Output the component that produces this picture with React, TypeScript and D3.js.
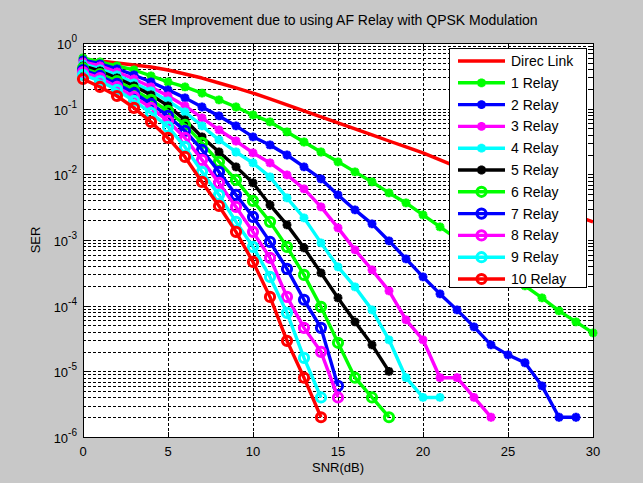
import React, { useEffect, useRef } from "react";
import * as d3 from "d3";

// SNR axis (dB)
const snrDb = [0, 1, 2, 3, 4, 5, 6, 7, 8, 9, 10, 11, 12, 13, 14, 15, 16, 17, 18, 19, 20, 21, 22, 23, 24, 25, 26, 27, 28, 29, 30];

// SER values
const direcLink = [0.551, 0.532, 0.497, 0.462, 0.431, 0.388, 0.337, 0.293, 0.246, 0.207, 0.173, 0.141, 0.114, 0.0923, 0.0748, 0.0606, 0.0491, 0.0398, 0.0322, 0.0261, 0.0212, 0.0166, 0.013, 0.0101, 0.00794, 0.00621, 0.00486, 0.0038, 0.00297, 0.00233, 0.00189];
const relay1 = [0.591, 0.514, 0.447, 0.388, 0.315, 0.255, 0.214, 0.173, 0.136, 0.106, 0.0802, 0.0628, 0.0442, 0.0311, 0.0219, 0.0155, 0.0109, 0.00766, 0.00521, 0.00367, 0.00241, 0.00158, 0.00104, 0.000683, 0.000464, 0.000305, 0.0002, 0.000131, 0.0000834, 0.0000567, 0.0000386];
const relay2 = [0.551, 0.479, 0.402, 0.326, 0.255, 0.193, 0.146, 0.106, 0.0775, 0.0546, 0.0371, 0.028, 0.0197, 0.013, 0.00851, 0.00486, 0.00287, 0.00176, 0.000968, 0.000516, 0.000274, 0.000151, 0.0000863, 0.0000475, 0.0000253, 0.0000178, 0.0000135, 0.000006, 0.000002, 0.000002];
const relay3 = [0.514, 0.447, 0.362, 0.283, 0.214, 0.156, 0.11, 0.0722, 0.0474, 0.0322, 0.0212, 0.0149, 0.0098, 0.006, 0.00319, 0.00153, 0.000707, 0.000351, 0.000168, 0.0000608, 0.0000302, 0.000008, 0.000008, 0.000004, 0.000002];
const relay4 = [0.479, 0.402, 0.326, 0.246, 0.186, 0.131, 0.0891, 0.0546, 0.0334, 0.0219, 0.0149, 0.00914, 0.00438, 0.00217, 0.000903, 0.00039, 0.000193, 0.0000863, 0.0000302, 0.000008, 0.000004, 0.000004];
const relay5 = [0.447, 0.375, 0.293, 0.222, 0.162, 0.11, 0.0673, 0.0371, 0.0219, 0.013, 0.0074, 0.00342, 0.0017, 0.000759, 0.000316, 0.000131, 0.0000567, 0.0000253, 0.00001];
const relay6 = [0.416, 0.337, 0.264, 0.193, 0.136, 0.0923, 0.0565, 0.0301, 0.0155, 0.00822, 0.00394, 0.00189, 0.000785, 0.000294, 0.0000959, 0.0000272, 0.000008, 0.000004, 0.000002];
const relay7 = [0.388, 0.315, 0.238, 0.173, 0.118, 0.0775, 0.0458, 0.0235, 0.0109, 0.00486, 0.00225, 0.000935, 0.000363, 0.000123, 0.0000459, 0.000006];
const relay8 = [0.362, 0.293, 0.214, 0.151, 0.103, 0.065, 0.0358, 0.0166, 0.0074, 0.00319, 0.00133, 0.000535, 0.000136, 0.0000459, 0.0000198, 0.000004];
const relay9 = [0.326, 0.264, 0.193, 0.131, 0.0861, 0.0527, 0.0261, 0.0109, 0.00486, 0.00189, 0.000785, 0.000274, 0.0000777, 0.000016, 0.000004];
const relay10 = [0.283, 0.214, 0.156, 0.103, 0.0628, 0.0358, 0.0184, 0.00766, 0.0033, 0.00133, 0.000464, 0.000136, 0.0000291, 0.000008, 0.000002];

const seriesNames = ["Direc Link", "1 Relay", "2 Relay", "3 Relay", "4 Relay", "5 Relay", "6 Relay", "7 Relay", "8 Relay", "9 Relay", "10 Relay"];
const seriesValues = [direcLink, relay1, relay2, relay3, relay4, relay5, relay6, relay7, relay8, relay9, relay10];
const seriesColors = ["#ff0000", "#00ff00", "#0000ff", "#ff00ff", "#00ffff", "#000000", "#00ff00", "#0000ff", "#ff00ff", "#00ffff", "#ff0000"];
const seriesMarkers = ["none", "star", "star", "star", "star", "star", "circle", "circle", "circle", "circle", "circle"];

const xTickValues = [0, 5, 10, 15, 20, 25, 30];
const yDecades = [0, -1, -2, -3, -4, -5, -6];

const W = 643;
const H = 483;
const M = { left: 83, right: 593, top: 43, bottom: 437 };
const FONT = "'Liberation Sans', Arial, sans-serif";

function starPath(s: number) {
  const d = s * 0.72;
  return `M${-s},0L${s},0M0,${-s}L0,${s}M${-d},${-d}L${d},${d}M${-d},${d}L${d},${-d}`;
}

export default function App() {
  const ref = useRef<SVGSVGElement>(null);

  useEffect(() => {
    const svg = d3.select(ref.current);
    svg.selectAll("*").remove();

    const x = d3.scaleLinear().domain([0, 30]).range([M.left, M.right]);
    const y = d3.scaleLog().domain([1e-6, 1]).range([M.bottom, M.top]);

    svg.append("rect").attr("width", W).attr("height", H).attr("fill", "#c8c8c8");
    svg
      .append("rect")
      .attr("x", M.left)
      .attr("y", M.top)
      .attr("width", M.right - M.left)
      .attr("height", M.bottom - M.top)
      .attr("fill", "#ffffff");

    // grid
    const grid = svg.append("g").attr("stroke", "#000").attr("stroke-width", 1).attr("stroke-dasharray", "3,2").attr("shape-rendering", "crispEdges");
    xTickValues.slice(1, -1).forEach((t) => {
      grid.append("line").attr("x1", Math.round(x(t)) + 0.5).attr("x2", Math.round(x(t)) + 0.5).attr("y1", M.top).attr("y2", M.bottom);
    });
    const minorVals: number[] = [];
    yDecades.slice(1).forEach((k) => {
      for (let m = 1; m <= 9; m++) minorVals.push(m * Math.pow(10, k));
    });
    minorVals
      .filter((v) => v > 1e-6 && v < 1)
      .forEach((v) => {
        const yy = Math.round(y(v)) + 0.5;
        grid.append("line").attr("x1", M.left).attr("x2", M.right).attr("y1", yy).attr("y2", yy);
      });

    // ticks
    const ticks = svg.append("g").attr("stroke", "#000").attr("stroke-width", 1).attr("shape-rendering", "crispEdges");
    xTickValues.forEach((t) => {
      const xx = Math.round(x(t)) + 0.5;
      ticks.append("line").attr("x1", xx).attr("x2", xx).attr("y1", M.bottom).attr("y2", M.bottom - 5);
      ticks.append("line").attr("x1", xx).attr("x2", xx).attr("y1", M.top).attr("y2", M.top + 5);
    });
    minorVals.forEach((v) => {
      const yy = Math.round(y(v)) + 0.5;
      const len = Math.abs(Math.log10(v) - Math.round(Math.log10(v))) < 1e-9 ? 5 : 3;
      ticks.append("line").attr("x1", M.left).attr("x2", M.left + len).attr("y1", yy).attr("y2", yy);
      ticks.append("line").attr("x1", M.right).attr("x2", M.right - len).attr("y1", yy).attr("y2", yy);
    });

    // series
    const line = d3
      .line<number>()
      .x((_, i) => x(snrDb[i]))
      .y((d) => y(d));

    seriesValues.forEach((vals, si) => {
      const g = svg.append("g");
      g.append("path")
        .attr("d", line(vals) as string)
        .attr("fill", "none")
        .attr("stroke", seriesColors[si])
        .attr("stroke-width", 3.4)
        .attr("stroke-linejoin", "round");
      if (seriesMarkers[si] === "circle") {
        g.selectAll("circle")
          .data(vals)
          .join("circle")
          .attr("cx", (_, i) => x(snrDb[i]))
          .attr("cy", (d) => y(d))
          .attr("r", 4.6)
          .attr("fill", "none")
          .attr("stroke", seriesColors[si])
          .attr("stroke-width", 3);
      } else if (seriesMarkers[si] === "star") {
        g.selectAll("path.m")
          .data(vals)
          .join("path")
          .attr("class", "m")
          .attr("transform", (d, i) => `translate(${x(snrDb[i])},${y(d)})`)
          .attr("d", starPath(4.4))
          .attr("stroke", seriesColors[si])
          .attr("stroke-width", 2.8);
      }
    });

    // axes box
    svg
      .append("rect")
      .attr("x", M.left + 0.5)
      .attr("y", M.top + 0.5)
      .attr("width", M.right - M.left)
      .attr("height", M.bottom - M.top)
      .attr("fill", "none")
      .attr("stroke", "#000")
      .attr("shape-rendering", "crispEdges");

    // tick labels
    xTickValues.forEach((t) => {
      svg
        .append("text")
        .attr("x", x(t))
        .attr("y", M.bottom + 19)
        .attr("text-anchor", "middle")
        .attr("font-family", FONT)
        .attr("font-size", 13)
        .text(String(t));
    });
    yDecades.forEach((k) => {
      const t = svg
        .append("text")
        .attr("x", M.left - 6)
        .attr("y", y(Math.pow(10, k)) + 6)
        .attr("text-anchor", "end")
        .attr("font-family", FONT)
        .attr("font-size", 13);
      t.append("tspan").text("10");
      t.append("tspan").attr("dy", -7).attr("font-size", 10).text(String(k));
    });

    // labels
    svg
      .append("text")
      .attr("x", (M.left + M.right) / 2)
      .attr("y", 25)
      .attr("text-anchor", "middle")
      .attr("font-family", FONT)
      .attr("font-size", 14)
      .text("SER Improvement due to using AF Relay with QPSK Modulation");
    svg
      .append("text")
      .attr("x", (M.left + M.right) / 2)
      .attr("y", 472)
      .attr("text-anchor", "middle")
      .attr("font-family", FONT)
      .attr("font-size", 13)
      .text("SNR(dB)");
    svg
      .append("text")
      .attr("transform", `translate(40,${(M.top + M.bottom) / 2}) rotate(-90)`)
      .attr("text-anchor", "middle")
      .attr("font-family", FONT)
      .attr("font-size", 13)
      .text("SER");

    // legend
    const lg = svg.append("g").attr("transform", "translate(449,48)");
    lg.append("rect")
      .attr("x", 0.5)
      .attr("y", 0.5)
      .attr("width", 137)
      .attr("height", 239)
      .attr("fill", "#fff")
      .attr("stroke", "#000")
      .attr("shape-rendering", "crispEdges");
    seriesNames.forEach((name, i) => {
      const ry = 13 + i * 21.8;
      lg.append("line")
        .attr("x1", 9)
        .attr("x2", 56)
        .attr("y1", ry)
        .attr("y2", ry)
        .attr("stroke", seriesColors[i])
        .attr("stroke-width", 3.4);
      if (seriesMarkers[i] === "circle") {
        lg.append("circle").attr("cx", 32.5).attr("cy", ry).attr("r", 4.6).attr("fill", "none").attr("stroke", seriesColors[i]).attr("stroke-width", 3);
      } else if (seriesMarkers[i] === "star") {
        lg.append("path").attr("transform", `translate(32.5,${ry})`).attr("d", starPath(4.4)).attr("stroke", seriesColors[i]).attr("stroke-width", 2.8);
      }
      lg.append("text")
        .attr("x", 62)
        .attr("y", ry + 5)
        .attr("font-family", FONT)
        .attr("font-size", 14)
        .text(name);
    });
  }, []);

  return (
    <svg
      ref={ref}
      width={W}
      height={H}
      style={{ position: "absolute", left: 0, top: 0, display: "block" }}
    />
  );
}
